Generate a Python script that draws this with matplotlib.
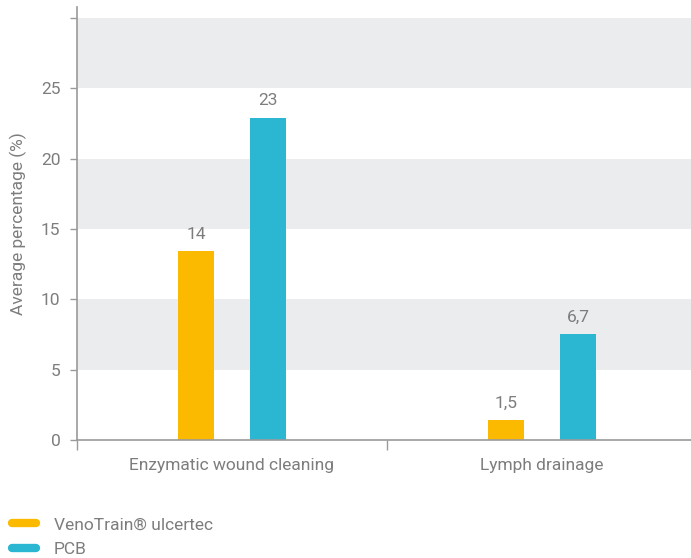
import matplotlib
matplotlib.use('Agg')
import matplotlib.pyplot as plt
from matplotlib.lines import Line2D
import numpy as np

# Data
categories = ['Enzymatic wound cleaning', 'Lymph drainage']
series_names = ['VenoTrain® ulcertec', 'PCB']
venotrain_values = [13.4, 1.4]
pcb_values = [22.9, 7.5]
venotrain_labels = ['14', '1,5']
pcb_labels = ['23', '6,7']
y_ticks = [0, 5, 10, 15, 20, 25, 30]
y_tick_labels = ['0', '5', '10', '15', '20', '25', '']

ORANGE = '#fbba00'
CYAN = '#2bb7d1'
TEXT = '#7d7d7d'
AXIS = '#9a9a9a'
BAND = '#ebeced'
FS = 12.5

plt.rcParams['font.family'] = ['Roboto', 'DejaVu Sans']

fig = plt.figure(figsize=(6.91, 5.58), dpi=100)
W, H = 691, 558
x0, x1 = 77, 691
y0, y1 = 440, 7
ax = fig.add_axes([x0 / W, (H - y0) / H, (x1 - x0) / W, (y0 - y1) / H])

ax.set_ylim(0, 30.77)
ax.set_xlim(-0.5, 1.5 - (697 - 691) / 310)

# alternating background bands
for lo in (5, 15, 25):
    ax.axhspan(lo, lo + 5, color=BAND, lw=0, zorder=0)

x = np.arange(len(categories))
bw = 0.116
b1 = ax.bar(x - bw, venotrain_values, bw, color=ORANGE, zorder=2)
b2 = ax.bar(x + bw, pcb_values, bw, color=CYAN, zorder=2)

for bars, labels in ((b1, venotrain_labels), (b2, pcb_labels)):
    for rect, lab in zip(bars, labels):
        ax.annotate(lab, (rect.get_x() + rect.get_width() / 2, rect.get_height()),
                    xytext=(0, 7), textcoords='offset points', ha='center', va='bottom',
                    color=TEXT, fontsize=FS)

for side in ('top', 'right'):
    ax.spines[side].set_visible(False)
for side in ('left', 'bottom'):
    ax.spines[side].set_color(AXIS)
    ax.spines[side].set_linewidth(1.2)
    ax.spines[side].set_zorder(3)

ax.set_yticks(y_ticks)
ax.set_yticklabels(y_tick_labels)
ax.tick_params(axis='y', direction='out', length=5, width=1, color=AXIS,
               labelcolor=TEXT, labelsize=FS, pad=7)

# separators as major ticks, category names as minor ticks
ax.set_xticks([-0.5, 0.5])
ax.set_xticklabels(['', ''])
ax.set_xticks(x, minor=True)
ax.set_xticklabels(categories, minor=True)
ax.tick_params(axis='x', which='major', direction='out', length=7, width=1, color=AXIS)
ax.tick_params(axis='x', which='minor', length=0, labelcolor=TEXT, labelsize=FS, pad=13)

ax.set_ylabel('Average percentage (%)', color=TEXT, fontsize=FS, labelpad=10)

handles = [Line2D([0], [0], color=ORANGE, lw=6, solid_capstyle='round'),
           Line2D([0], [0], color=CYAN, lw=6, solid_capstyle='round')]
fig.legend(handles, series_names, loc='upper left', bbox_to_anchor=(0.0, (H - 505) / H),
           frameon=False, fontsize=FS, labelcolor=TEXT, handlelength=1.4,
           handletextpad=1.0, labelspacing=0.55, borderaxespad=0.3)

fig.savefig('out.png', dpi=100)
